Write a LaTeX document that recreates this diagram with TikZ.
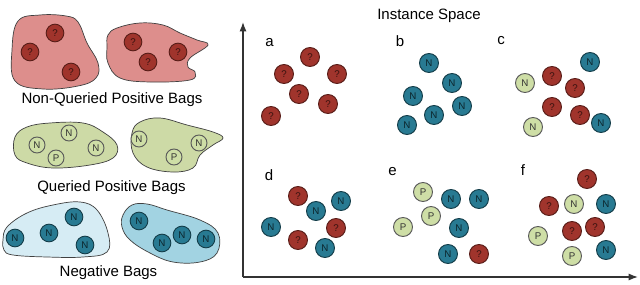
\documentclass[tikz,border=0pt]{standalone}
\usepackage{fontspec}
\setmainfont{Liberation Sans}
\usetikzlibrary{arrows.meta}
\definecolor{unkred}{RGB}{160,52,44}
\definecolor{negblue}{RGB}{40,122,146}
\definecolor{posgreen}{RGB}{206,222,166}
\definecolor{bagpink}{RGB}{221,142,140}
\definecolor{baggreen}{RGB}{205,218,166}
\definecolor{bagpale}{RGB}{214,236,244}
\definecolor{bagblue}{RGB}{162,211,226}

\begin{document}
\begin{tikzpicture}[x=0.03cm,y=-0.03cm,>=Latex,
  every node/.style={font=\fontsize{12.8}{14}\selectfont},
  inst/.style={circle,inner sep=0pt,minimum size=5.7mm,line width=0.8pt,
    font=\fontsize{8.3}{9}\selectfont},
  unk/.style={inst,draw=unkred!55!black,fill=unkred,text=unkred!35!black},
  neg/.style={inst,draw=negblue!50!black,fill=negblue,text=negblue!30!black},
  lbl/.style={inst,draw=black!65,fill=posgreen,text=black!80},
  smallinst/.style={minimum size=5.3mm},
  tinyinst/.style={minimum size=4.8mm},
  bag/.style={draw=black!75,line width=0.6pt,smooth cycle,tension=0.65},
  caption/.style={anchor=base}]
  \useasboundingbox (0,0) rectangle (640,285);
  % bags
  \draw[bag,fill=bagpink] plot coordinates {(18,21) (40,15) (66,16) (78,22) (87,43)
    (98,63) (96,78) (78,86) (43,89) (15,81) (12,50)};
  \draw[bag,fill=bagpink] plot coordinates {(108,35) (117,28) (140,23) (163,25) (180,33)
    (197,40) (208,45) (190,58) (188,67) (195,72) (190,80) (150,82) (120,78) (108,63) (107,47)};
  \draw[bag,fill=baggreen] plot coordinates {(15,137) (27,127) (50,123) (83,123) (103,132)
    (117,145) (113,158) (90,165) (53,168) (27,163) (15,155)};
  \draw[bag,fill=baggreen] plot coordinates {(132,133) (140,122) (160,118) (187,125) (213,132)
    (223,138) (213,145) (200,155) (193,168) (173,172) (147,167) (133,153)};
  \draw[bag,fill=bagpale] plot coordinates {(3,240) (7,227) (27,213) (53,205) (80,202) (97,210)
    (108,233) (107,252) (83,257) (47,257) (13,255) (4,250)};
  \draw[bag,fill=bagblue] plot coordinates {(123,215) (132,205) (147,204) (167,210) (200,220)
    (218,233) (217,253) (200,262) (173,262) (150,253) (130,240) (122,227)};
  \node[unk,smallinst] (p1a) at (55,33) {?};
  \node[unk,smallinst] (p1b) at (30,52) {?};
  \node[unk,smallinst] (p1c) at (71,72) {?};
  \node[unk,smallinst] (p2a) at (133,42) {?};
  \node[unk,smallinst] (p2b) at (178,52) {?};
  \node[unk,smallinst] (p2c) at (148,62) {?};
  \node[lbl,tinyinst] (q1a) at (69,133) {N};
  \node[lbl,tinyinst] (q1b) at (37,145) {N};
  \node[lbl,tinyinst] (q1c) at (96,148) {N};
  \node[lbl,tinyinst] (q1d) at (56,158) {P};
  \node[lbl,tinyinst] (q2a) at (139,139) {N};
  \node[lbl,tinyinst] (q2b) at (199,143) {N};
  \node[lbl,tinyinst] (q2c) at (174,157) {P};
  \node[neg,smallinst] (n1a) at (15,238) {N};
  \node[neg,smallinst] (n1b) at (49,233) {N};
  \node[neg,smallinst] (n1c) at (74,217) {N};
  \node[neg,smallinst] (n1d) at (85,245) {N};
  \node[neg,smallinst] (n2a) at (139,221) {N};
  \node[neg,smallinst] (n2b) at (162,243) {N};
  \node[neg,smallinst] (n2c) at (182,235) {N};
  \node[neg,smallinst] (n2d) at (206,239) {N};
  \node[caption] (nqlab) at (112,104) {Non-Queried Positive Bags};
  \node[caption] (qlab) at (111.5,191.5) {Queried Positive Bags};
  \node[caption] (neglab) at (108.5,276) {Negative Bags};
  % instance space
  \coordinate (origin) at (243,277);
  \coordinate (ytop) at (243,22);
  \coordinate (xend) at (638,277);
  \draw[->,line width=1.1pt,black!80] (origin) -- (ytop);
  \draw[->,line width=1.1pt,black!80] (origin) -- (xend);
  \node[caption] (space) at (429,19.5) {Instance Space};
  \node[caption] (la) at (269.5,46.7) {a};
  \node[caption] (lb) at (400,46.7) {b};
  \node[caption] (lc) at (501,45) {c};
  \node[caption] (ld) at (269,181) {d};
  \node[caption] (le) at (392.5,176) {e};
  \node[caption] (lf) at (523,176) {f};
  \node[unk] (a1) at (310,57) {?};
  \node[unk] (a2) at (284,74) {?};
  \node[unk] (a3) at (337,74) {?};
  \node[unk] (a4) at (299,94) {?};
  \node[unk] (a5) at (328,104) {?};
  \node[unk] (a6) at (271,116) {?};
  \node[neg] (b1) at (429,63) {N};
  \node[neg] (b2) at (452,83) {N};
  \node[neg] (b3) at (413,96) {N};
  \node[neg] (b4) at (462,106) {N};
  \node[neg] (b5) at (434,115) {N};
  \node[neg] (b6) at (407,125) {N};
  \node[neg] (c1) at (590,62) {N};
  \node[lbl] (c2) at (525,83) {N};
  \node[unk] (c3) at (552,76) {?};
  \node[unk] (c4) at (575,88) {?};
  \node[unk] (c5) at (552,107) {?};
  \node[unk] (c6) at (580,115) {?};
  \node[neg] (c7) at (601,123) {N};
  \node[lbl] (c8) at (533,127) {N};
  \node[unk] (d1) at (298,196) {?};
  \node[neg] (d2) at (341,201) {N};
  \node[neg] (d3) at (316,211) {N};
  \node[neg] (d4) at (271,227) {N};
  \node[unk] (d5) at (336,228) {?};
  \node[unk] (d6) at (298,240) {?};
  \node[neg] (d7) at (325,248) {N};
  \node[lbl] (e1) at (423,192) {P};
  \node[lbl] (e2) at (431,216) {P};
  \node[lbl] (e3) at (403,227) {P};
  \node[neg] (e4) at (451,199) {N};
  \node[neg] (e5) at (479,199) {N};
  \node[neg] (e6) at (459,228) {N};
  \node[neg] (e7) at (448,254) {N};
  \node[unk] (e8) at (479,254) {?};
  \node[unk] (f1) at (587,179) {?};
  \node[unk] (f2) at (549,206) {?};
  \node[lbl] (f3) at (574,204) {N};
  \node[neg] (f4) at (606,204) {N};
  \node[unk] (f5) at (595,227) {?};
  \node[unk] (f6) at (572,231) {?};
  \node[lbl] (f7) at (538,236) {P};
  \node[lbl] (f8) at (572,256) {P};
  \node[neg] (f9) at (606,250) {N};
\end{tikzpicture}
\end{document}
